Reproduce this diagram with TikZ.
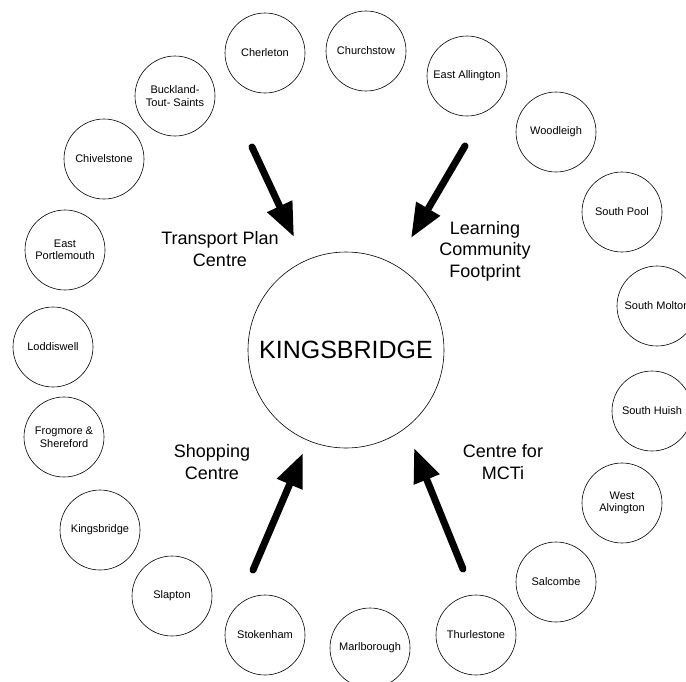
\documentclass[tikz,border=0pt]{standalone}
\usepackage{fontspec}
\setmainfont{Liberation Sans}
\usepackage{tikz}
\usetikzlibrary{arrows.meta}

\begin{document}
\begin{tikzpicture}[x=1pt, y=-1pt, line width=0.6pt]
  \useasboundingbox (0,0) rectangle (686,681);
  \begin{scope}[nodes = {draw, circle, inner sep = 0pt, minimum size = 80pt, align = center},
                font = \fontsize{11}{12.5}\selectfont]
    \node (cherleton) at (265,53) {Cherleton};
    \node (churchstow) at (366,51) {Churchstow};
    \node (eastallington) at (467,76) {East Allington};
    \node (woodleigh) at (556,132) {Woodleigh};
    \node (southpool) at (622,212) {South Pool};
    \node (southmolton) at (657,306) {South Molton};
    \node (southhuish) at (652,411) {South Huish};
    \node (westalvington) at (622,503) {West\\Alvington};
    \node (salcombe) at (556,582) {Salcombe};
    \node (thurlestone) at (476,635) {Thurlestone};
    \node (marlborough) at (370,648) {Marlborough};
    \node (stokenham) at (265,635) {Stokenham};
    \node (slapton) at (172,596) {Slapton};
    \node (kingsbridge) at (100,530) {Kingsbridge};
    \node (frogmore) at (64,437) {Frogmore \&\\Shereford};
    \node (loddiswell) at (53,347) {Loddiswell};
    \node (eastportlemouth) at (65,250) {East\\Portlemouth};
    \node (chivelstone) at (104,159) {Chivelstone};
    \node (buckland) at (175,96) {Buckland-\\Tout- Saints};
  \end{scope}
  \node[draw, circle, inner sep = 0pt, minimum size = 196pt,
        font = \fontsize{25}{28}\selectfont] (town) at (346,350) {KINGSBRIDGE};
  \begin{scope}[nodes = {align = center}, font = \fontsize{18}{21.5}\selectfont]
    \node (transport) at (220,249) {Transport Plan\\Centre};
    \node (learning) at (485,251) {Learning\\Community\\Footprint};
    \node (shopping) at (212,462) {Shopping\\Centre};
    \node (mcti) at (503,462) {Centre for\\MCTi};
  \end{scope}
  % arrow ends
  \coordinate (t1) at (252,147);
  \coordinate (h1) at (294,237);
  \coordinate (t2) at (465,146);
  \coordinate (h2) at (411,238);
  \coordinate (t3) at (253,570);
  \coordinate (h3) at (303,453);
  \coordinate (t4) at (463,569);
  \coordinate (h4) at (414,448);
  \begin{scope}[line width = 7pt, line cap = round, -{Triangle[length = 34pt, width = 26pt]}]
    \draw (t1) -- (h1);
    \draw (t2) -- (h2);
    \draw (t3) -- (h3);
    \draw (t4) -- (h4);
  \end{scope}
\end{tikzpicture}
\end{document}
